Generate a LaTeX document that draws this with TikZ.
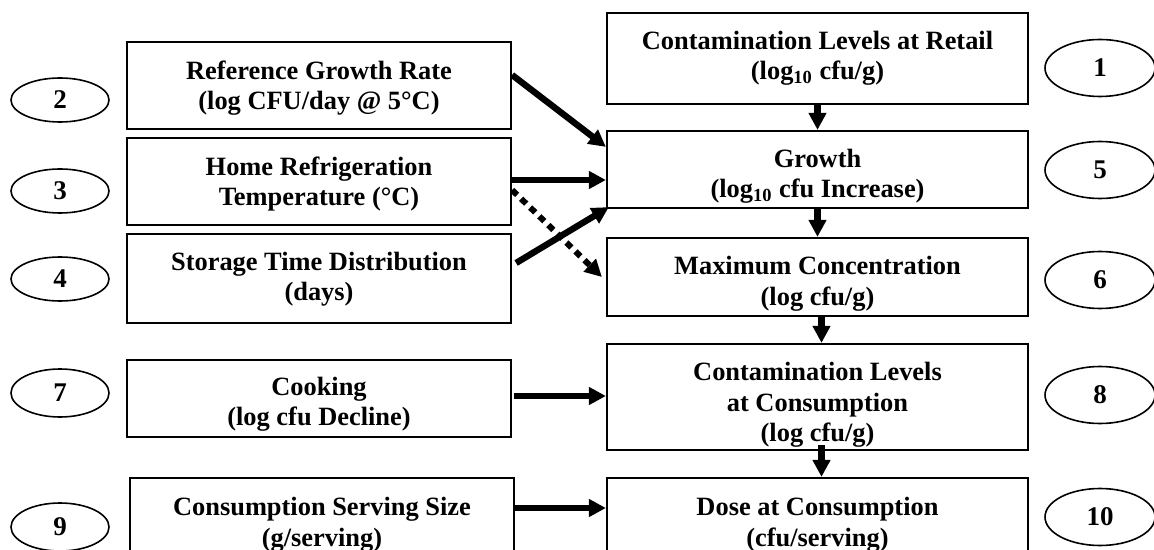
\documentclass[tikz,border=0pt]{standalone}
\usepackage{fontspec}
\setmainfont{Liberation Serif}
\usetikzlibrary{arrows.meta}
\usetikzlibrary{calc}
\usetikzlibrary{shapes.geometric}
\tikzset{>=latex}
\tikzstyle{stagebox}=[draw=black,line width=1.1pt,inner sep=0pt,font=\fontsize{13.2}{15.2}\selectfont\bfseries]
\tikzstyle{leftbox}=[stagebox,minimum width=192pt]
\tikzstyle{rightbox}=[stagebox,minimum width=210.5pt]
\tikzstyle{numoval}=[draw=black,ellipse,line width=0.8pt,inner sep=0pt,font=\fontsize{13.5}{15}\selectfont\bfseries]
\tikzstyle{leftoval}=[numoval,minimum width=49pt,minimum height=22pt]
\tikzstyle{rightoval}=[numoval,minimum width=55pt,minimum height=28.5pt]
\tikzstyle{bigarrow}=[line width=3.2pt,-{Triangle[length=8.5pt,width=8.5pt]}]
\tikzstyle{dotarrow}=[line width=3pt,dash pattern=on 3.5pt off 2.8pt,-{Triangle[length=8.5pt,width=8.5pt]}]
% centred lines, set a little below the middle of the box
\newcommand{\stagetext}[2][3pt]{\raisebox{-#1}[\height][\depth]{\begin{tabular}{@{}c@{}}#2\end{tabular}}}

\begin{document}
\begin{tikzpicture}[x=0.5pt,y=-0.5pt]
    \clip (0,0) rectangle (1154,550);

    % Input boxes, left column
    \node[leftbox,minimum height=43.5pt] (rgr) at (319,85.5) {\stagetext[1.5pt]{Reference Growth Rate\\(log CFU/day @ 5°C)}};
    \node[leftbox,minimum height=43.5pt] (temp) at (319,181.5) {\stagetext[1.5pt]{Home Refrigeration\\Temperature (°C)}};
    \node[leftbox,minimum height=44.5pt] (stor) at (319,278.5) {\stagetext[0.5pt]{Storage Time Distribution\\(days)}};
    \node[leftbox,minimum height=38.5pt] (cook) at (319,398.5) {\stagetext{Cooking\\(log cfu Decline)}};
    \node[leftbox,minimum height=42pt] (serv) at (322,520) {\stagetext[2.5pt]{Consumption Serving Size\\(g/serving)}};

    % Model stages, right column
    \node[rightbox,minimum height=45.5pt] (retail) at (817.5,58.5) {\stagetext[0pt]{Contamination Levels at Retail\\(log\textsubscript{10} cfu/g)}};
    \node[rightbox,minimum height=38.5pt] (growth) at (817.5,169.5) {\stagetext[3.5pt]{Growth\\(log\textsubscript{10} cfu Increase)}};
    \node[rightbox,minimum height=39pt] (maxc) at (817.5,277) {\stagetext[3.5pt]{Maximum Concentration\\(log cfu/g)}};
    \node[rightbox,minimum height=53pt] (cons) at (817.5,397) {\stagetext[4pt]{Contamination Levels\\at Consumption\\(log cfu/g)}};
    \node[rightbox,minimum height=42pt] (dose) at (817.5,520) {\stagetext[2.5pt]{Dose at Consumption\\(cfu/serving)}};

    % Number ovals
    \node[rightoval] (n1) at (1100,68) {1};
    \node[leftoval] (n2) at (60,100) {2};
    \node[leftoval] (n3) at (60,191) {3};
    \node[leftoval] (n4) at (60,279) {4};
    \node[rightoval] (n5) at (1100,170) {5};
    \node[rightoval] (n6) at (1100,280) {6};
    \node[leftoval,minimum height=24pt] (n7) at (60,393) {7};
    \node[rightoval] (n8) at (1100,395) {8};
    \node[leftoval,minimum height=24pt] (n9) at (60,527) {9};
    \node[rightoval] (n10) at (1100,517) {10};

    % Arrows into growth
    \draw[bigarrow] ($(rgr.east)+(0,-10.5)$) -- ($(growth.north west)+(0,17)$);
    \draw[bigarrow] ($(temp.east)+(0,-1.5)$) -- ($(growth.west)+(0,10.5)$);
    \draw[bigarrow] ($(stor.east)+(4,-15.5)$) -- ($(growth.south west)+(3,-2)$);
    \draw[dotarrow] ($(temp.east)+(0,8.5)$) -- ($(maxc.west)+(-4,0)$);

    % Arrows down the right column
    \draw[bigarrow] (retail.south) -- (growth.north);
    \draw[bigarrow] (growth.south) -- (maxc.north);
    \draw[bigarrow] ($(maxc.south)+(4,0)$) -- ($(cons.north)+(4,0)$);
    \draw[bigarrow] ($(cons.south)+(4,-6)$) -- ($(dose.north)+(4,0)$);

    % Arrows from the lower inputs
    \draw[bigarrow] ($(cook.east)+(2,-2.5)$) -- ($(cons.west)+(0,-1)$);
    \draw[bigarrow] ($(serv.east)+(-2,-12)$) -- ($(dose.west)+(0,-12)$);
\end{tikzpicture}
\end{document}
